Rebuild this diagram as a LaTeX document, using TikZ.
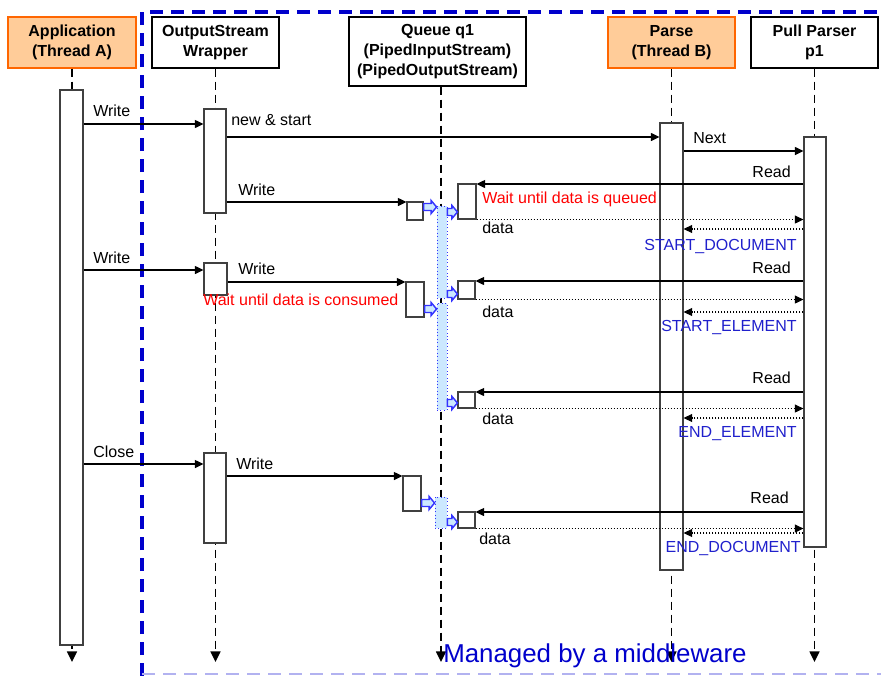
\documentclass[tikz,border=0pt]{standalone}
\usepackage{fontspec}
\setmainfont{Liberation Sans}
\usepackage{tikz}
\usetikzlibrary{arrows.meta,fit,calc}

\definecolor{thrfill}{HTML}{FFCC99}
\definecolor{thrline}{HTML}{FF6600}
\definecolor{mwblue}{HTML}{0000CC}
\definecolor{evblue}{HTML}{2020CC}
\definecolor{qfill}{HTML}{CCE8FF}
\definecolor{qline}{HTML}{3333FF}

\newcommand{\diafont}{\fontsize{12}{14.6}\selectfont}

\tikzset{
    head/.style={draw, line width=1.1pt, fill=white, inner sep=0pt,
        align=center, font=\fontsize{12}{15}\selectfont\bfseries},
    thread/.style={head, draw=thrline, fill=thrfill},
    life/.style={-{Triangle[length=8pt, width=7.5pt]},
        dash pattern=on 6pt off 3.75pt, line width=1.1pt},
    act/.style={draw=black!75, fill=white, line width=0.8pt, inner sep=0pt},
    band/.style={draw=qline, fill=qfill, dotted, line width=0.6pt, inner sep=0pt},
    qarr/.style={draw=qline, fill=qfill, line width=1.1pt},
    msg/.style={->, line width=1.1pt},
    ret/.style={->, line width=0.8pt, dash pattern=on 0.75pt off 1.5pt},
    lbl/.style={anchor=base west, inner sep=0pt},
    lblr/.style={anchor=base east, inner sep=0pt},
    waitlbl/.style={lbl, text=red},
    evlbl/.style={lblr, text=evblue},
    mwframe/.style={draw=mwblue, line width=2.5pt, dash pattern=on 9.75pt off 6pt}
}

% fat blue arrow between queue boxes
\newcommand{\qarrow}[2]{%
    \path #1 coordinate (qs) #2 coordinate (qe);
    \draw[qarr] ($(qs)+(0,-3.5)$) -- ($(qe)+(-5.5,-3.5)$) -- ($(qe)+(-5.5,-6.5)$) -- (qe)
        -- ($(qe)+(-5.5,6.5)$) -- ($(qe)+(-5.5,3.5)$) -- ($(qs)+(0,3.5)$) -- cycle;
}

\begin{document}
\begin{tikzpicture}[
    x=0.75pt, y=-0.75pt,
    font=\diafont,
    >={Triangle[length=6.5pt, width=6pt]}
]
\useasboundingbox (0,0) rectangle (881,675);

% Middleware frame
\draw[mwframe] (142,676) -- (142,12) -- (884,12);
\draw[
    mwframe,
    draw=mwblue!30,
    line width=1.2pt
] (142,674) -- (884,674);

% Participants
\node[thread, minimum width=96pt, minimum height=38.25pt] (hApp)
    at (72,42.5) {Application\\(Thread A)};
\node[head, minimum width=95.25pt, minimum height=38.25pt] (hWrap)
    at (215.5,42.5) {OutputStream\\Wrapper};
\node[head, minimum width=132.75pt, minimum height=51.75pt] (hQueue)
    at (437.5,51.5) {Queue q1\\(PipedInputStream)\\(PipedOutputStream)};
\node[thread, minimum width=95.25pt, minimum height=38.25pt] (hParse)
    at (671.5,42.5) {Parse\\(Thread B)};
\node[head, minimum width=95.25pt, minimum height=38.25pt] (hPull)
    at (814.5,42.5) {Pull Parser\\p1};

% Lifelines
\draw[life] (hApp.south) -- (hApp.south |- 0,662);
\draw[life] (hWrap.south) -- (hWrap.south |- 0,662);
\draw[life] (hQueue.south -| 441,0) -- (441,662);
\draw[life] (hParse.south) -- (hParse.south |- 0,662);
\draw[life] (hPull.south) -- (hPull.south |- 0,662);

% Activations
\node[act, fit={(60,90) (83,645)}] (actA) {};
\node[act, fit={(204,109) (226,213)}] (actW1) {};
\node[act, fit={(204,263) (227,295)}] (actW2) {};
\node[act, fit={(204,453) (226,543)}] (actW3) {};
\node[act, fit={(660,123) (683,570)}] (actB) {};
\node[act, fit={(804,137) (826,547)}] (actP) {};

% Queue contents
\node[band, fit={(437,206) (447,298)}] (band1) {};
\node[band, fit={(437,303) (447,410)}] (band2) {};
\node[band, fit={(435,497) (447,528)}] (band3) {};

\node[act, fit={(407,202) (423,220)}] (wq1) {};
\node[act, fit={(406,282) (424,317)}] (wq2) {};
\node[act, fit={(403,476) (421,511)}] (wq3) {};
\node[act, fit={(458,184) (476,219)}] (rq1) {};
\node[act, fit={(458,281) (475,299)}] (rq2) {};
\node[act, fit={(458,392) (475,408)}] (rq3) {};
\node[act, fit={(458,512) (475,528)}] (rq4) {};

\qarrow{(wq1.east |- 0,207)}{(band1.west |- 0,207)}
\qarrow{(band1.east |- 0,212)}{(rq1.west |- 0,212)}
\qarrow{(band1.east |- 0,294)}{(rq2.west |- 0,294)}
\qarrow{(wq2.east |- 0,309)}{(band2.west |- 0,309)}
\qarrow{(band2.east |- 0,403)}{(rq3.west |- 0,403)}
\qarrow{(wq3.east |- 0,503)}{(band3.west |- 0,503)}
\qarrow{(band3.east |- 0,522)}{(rq4.west |- 0,522)}

% Calls
\draw[msg] (actA.east |- 0,124) -- (actW1.west |- 0,124);
\draw[msg] (actW1.east |- 0,137) -- (actB.west |- 0,137);
\draw[msg] (actB.east |- 0,151) -- (actP.west |- 0,151);
\draw[msg] (actP.west |- 0,184) -- (rq1.east |- 0,184);
\draw[msg] (actW1.east |- 0,202) -- (wq1.west |- 0,202);
\draw[msg] (actA.east |- 0,270) -- (actW2.west |- 0,270);
\draw[msg] (actW2.east |- 0,282) -- (wq2.west |- 0,282);
\draw[msg] (actP.west |- 0,281) -- (rq2.east |- 0,281);
\draw[msg] (actP.west |- 0,392) -- (rq3.east |- 0,392);
\draw[msg] (actA.east |- 0,464) -- (actW3.west |- 0,464);
\draw[msg] (actW3.east |- 0,476) -- (wq3.west |- 0,476);
\draw[msg] (actP.west |- 0,512) -- (rq4.east |- 0,512);

% Returns
\draw[ret] (rq1.south east) -- (actP.west |- rq1.south east);
\draw[ret] (actP.west |- 0,229) -- (actB.east |- 0,229);
\draw[ret] (rq2.south east) -- (actP.west |- rq2.south east);
\draw[ret] (actP.west |- 0,312) -- (actB.east |- 0,312);
\draw[ret] (rq3.south east) -- (actP.west |- rq3.south east);
\draw[ret] (actP.west |- 0,418) -- (actB.east |- 0,418);
\draw[ret] (rq4.south east) -- (actP.west |- rq4.south east);
\draw[ret] (actP.west |- 0,533) -- (actB.east |- 0,533);

% Labels
\node[lbl] (tWriteA1) at (93,116) {Write};
\node[lbl] (tNew) at (231,125) {new \& start};
\node[lbl] (tNext) at (693,143) {Next};
\node[lblr] (tRead1) at (791,177) {Read};
\node[waitlbl] (tWaitQ) at (482,203) {Wait until data is queued};
\node[lbl] (tWriteW1) at (238,195) {Write};
\node[lbl] (tData1) at (482,233) {data};
\node[evlbl] (tSDoc) at (797,250) {START\_DOCUMENT};

\node[lbl] (tWriteA2) at (93,263) {Write};
\node[lbl] (tWriteW2) at (238,274) {Write};
\node[waitlbl] (tWaitC) at (203,305) {Wait until data is consumed};
\node[lblr] (tRead2) at (791,273) {Read};
\node[lbl] (tData2) at (482,317) {data};
\node[evlbl] (tSElem) at (797,331) {START\_ELEMENT};

\node[lblr] (tRead3) at (791,383) {Read};
\node[lbl] (tData3) at (482,424) {data};
\node[evlbl] (tEElem) at (797,437) {END\_ELEMENT};

\node[lbl] (tClose) at (93,457) {Close};
\node[lbl] (tWriteW3) at (236,469) {Write};
\node[lblr] (tRead4) at (789,503) {Read};
\node[lbl] (tData4) at (479,544) {data};
\node[evlbl] (tEDoc) at (801,552) {END\_DOCUMENT};

% Middleware caption
\node[
    anchor=base west,
    inner sep=0pt,
    text=mwblue,
    font=\fontsize{19.4}{23}\selectfont
] (tMiddle) at (443,662) {Managed by a middleware};

\end{tikzpicture}
\end{document}
